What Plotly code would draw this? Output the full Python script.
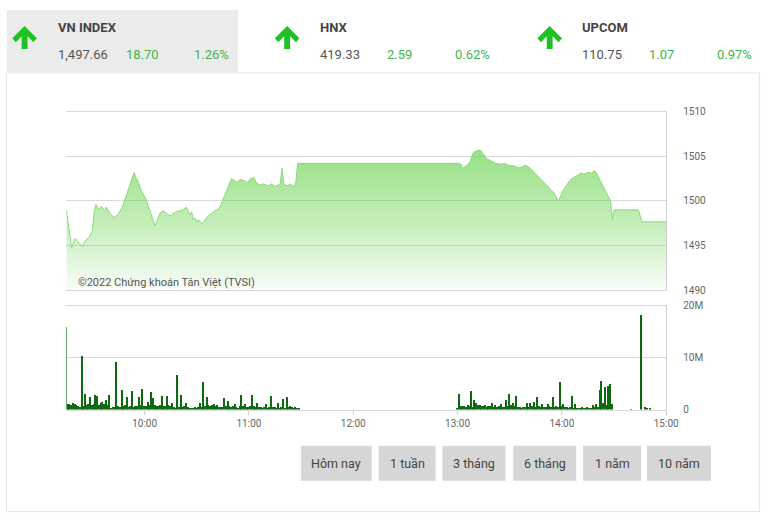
import plotly.graph_objects as go
import pandas as pd

DAY = "2022-01-05"
W, H = 780, 522

# ---------------- data ----------------
price_times = ["09:15","09:18","09:20","09:22","09:24","09:26","09:28","09:30","09:31","09:32",
               "09:33","09:34","09:35","09:37","09:38","09:39","09:40","09:41","09:43","09:44",
               "09:45","09:47","09:50","09:52","09:54","09:55","09:56","09:58","10:01","10:03",
               "10:06","10:09","10:11","10:13","10:15","10:17","10:20","10:22","10:24","10:26",
               "10:27","10:28","10:29","10:30","10:31","10:33","10:34","10:36","10:39","10:43",
               "10:46","10:50","10:53","10:55","10:57","10:59","11:01","11:03","11:04","11:06",
               "11:08","11:11","11:13","11:15","11:17","11:18","11:19","11:20","11:22","11:24",
               "11:26","11:27","11:28","11:30","13:00","13:02","13:03","13:07","13:09","13:11",
               "13:13","13:15","13:17","13:19","13:22","13:25","13:27","13:29","13:33","13:35",
               "13:37","13:39","13:41","13:44","13:47","13:50","13:52","13:55","13:58","14:01",
               "14:05","14:08","14:11","14:13","14:15","14:17","14:18","14:19","14:22","14:24",
               "14:26","14:28","14:29","14:30","14:44","14:46","15:00"]
price_values = [1499.0,1494.7,1495.8,1495.3,1494.9,1495.6,1495.9,1496.7,1498.8,1499.6,
                1499.3,1499.0,1499.4,1499.0,1499.3,1498.9,1498.6,1498.4,1498.1,1498.4,
                1498.6,1499.2,1501.0,1502.2,1503.2,1502.6,1502.3,1501.2,1500.1,1498.9,
                1497.2,1498.7,1498.9,1498.5,1498.3,1498.7,1498.9,1499.0,1499.3,1498.5,
                1498.8,1497.9,1498.1,1497.6,1497.9,1497.4,1497.6,1498.2,1498.7,1499.2,
                1500.6,1502.5,1502.1,1502.4,1502.3,1502.0,1502.5,1502.6,1502.1,1501.8,
                1501.9,1501.7,1501.9,1501.6,1501.8,1501.9,1503.7,1501.9,1501.7,1501.9,
                1501.6,1502.1,1504.2,1504.2,1504.2,1504.1,1503.6,1504.3,1505.4,1505.6,
                1505.7,1505.2,1504.7,1504.5,1504.2,1504.1,1504.2,1504.0,1503.9,1503.7,
                1503.8,1504.0,1503.8,1503.2,1502.6,1502.1,1501.6,1501.0,1500.0,1501.3,
                1502.4,1502.8,1503.1,1503.0,1503.2,1503.1,1503.3,1503.4,1502.3,1501.5,
                1500.7,1500.0,1497.9,1499.0,1499.0,1497.66,1497.66]

# volume (millions) per minute, morning session from 09:15
vol_morning_start = "09:15"
vol_morning = [16.0,1.0,1.1,0.9,1.2,1.0,0.9,0.6,0.5,10.3,
               0.6,3.1,0.8,1.0,2.5,0.9,1.1,2.8,2.6,0.9,
               1.2,1.5,1.0,1.8,0.9,2.8,0.3,0.4,0.5,9.1,
               0.6,0.5,3.7,0.6,0.8,2.4,0.5,0.6,3.5,0.5,
               0.7,0.6,2.4,0.8,4.0,0.6,0.7,1.5,0.9,3.3,
               2.2,0.8,0.6,0.7,0.9,2.7,0.7,0.6,2.7,0.8,
               0.6,1.2,0.4,0.3,6.7,0.4,2.8,0.5,0.6,1.2,
               0.4,0.3,0.2,0.3,0.4,0.3,0.5,1.2,0.4,5.3,
               0.6,2.5,0.9,0.7,0.8,1.0,0.6,0.8,0.5,0.4,
               0.5,2.3,0.6,1.6,0.7,0.5,0.6,1.0,0.4,0.3,
               0.6,2.8,0.7,1.0,0.5,0.4,0.6,2.8,0.6,0.5,
               1.2,0.4,0.5,0.3,0.4,1.0,0.3,0.4,2.7,0.5,
               0.4,0.3,1.3,0.3,0.4,2.0,0.3,2.4,0.4,0.6,
               0.5,0.3,0.4,0.3,0.2]
# afternoon session from 13:00
vol_afternoon_start = "13:00"
vol_afternoon = [0.2,3.0,0.6,0.7,0.6,0.5,0.8,0.6,3.5,0.5,
                 1.8,1.2,0.8,0.9,0.7,0.6,0.8,0.5,0.7,0.6,
                 1.2,0.5,0.8,0.4,0.6,1.0,0.5,0.4,1.8,0.7,
                 3.0,0.9,1.3,0.6,2.6,0.5,0.4,0.3,0.5,0.4,
                 1.3,0.5,1.2,0.6,1.5,0.4,2.5,0.6,0.5,1.0,
                 0.4,0.5,1.0,0.6,0.4,2.5,0.5,0.6,0.4,5.4,
                 0.6,1.0,0.5,0.4,0.3,0.4,2.7,0.3,1.0,0.3,
                 0.3,0.2,0.4,0.3,0.3,0.4,0.2,0.3,0.9,0.4,
                 1.0,0.5,3.7,5.5,1.2,4.3,0.8,4.6,4.9,1.0]
# closing auction and after
vol_close_times = ["14:40","14:46","14:48","14:49","14:51"]
vol_close = [0.1,18.3,0.4,0.2,0.3]

price_ticks = [1490, 1495, 1500, 1505, 1510]
vol_ticks = [0, 10, 20]
vol_ticktext = ["0", "10M", "20M"]
time_ticks = ["10:00", "11:00", "12:00", "13:00", "14:00", "15:00"]

indices = [
    dict(name="VN INDEX", value="1,497.66", change="18.70", pct="1.26%"),
    dict(name="HNX", value="419.33", change="2.59", pct="0.62%"),
    dict(name="UPCOM", value="110.75", change="1.07", pct="0.97%"),
]
buttons = ["Hôm nay", "1 tuần", "3 tháng", "6 tháng", "1 năm", "10 năm"]
copyright_text = "©2022 Chứng khoán Tân Việt (TVSI)"

assert len(price_times) == len(price_values)

# ---------------- helpers ----------------
def ts(hm):
    return pd.Timestamp(f"{DAY} {hm}")

def px(x):
    return x / W

def py(y):
    return 1 - y / H

FONT = "Roboto"
GREEN_TXT = "#43b549"
ARROW_GREEN = "#1fc224"

# ---------------- traces ----------------
fig = go.Figure()

fig.add_trace(go.Scatter(
    x=[ts(t) for t in price_times], y=price_values,
    mode="lines", line=dict(color="#8cda78", width=1),
    fill="tozeroy",
    fillgradient=dict(type="vertical", start=1490, stop=1506,
                      colorscale=[[0, "rgba(120,215,95,0.03)"], [0.5, "rgba(120,215,95,0.45)"],
                                  [1, "rgba(120,215,95,0.78)"]]),
    xaxis="x", yaxis="y", hoverinfo="skip", showlegend=False,
))

vol_x = list(pd.date_range(ts(vol_morning_start), periods=len(vol_morning), freq="min")) + \
        list(pd.date_range(ts(vol_afternoon_start), periods=len(vol_afternoon), freq="min")) + \
        [ts(t) for t in vol_close_times]
vol_y = vol_morning + vol_afternoon + vol_close

fig.add_trace(go.Bar(
    x=vol_x, y=vol_y, width=42000,
    marker=dict(color="#0c6b10", line=dict(width=0)),
    xaxis="x2", yaxis="y2", hoverinfo="skip", showlegend=False,
))

# ---------------- axes ----------------
xdom = [px(67.5), px(677.5)]
xrange = [ts("09:15"), ts("15:00")]
grid = "#d9d9d9"
tickfont = dict(family=FONT, size=10, color="#666")

fig.update_layout(
    width=W, height=H, autosize=False,
    margin=dict(l=0, r=0, t=0, b=0),
    paper_bgcolor="white", plot_bgcolor="white",
    bargap=0,
    xaxis=dict(domain=xdom, anchor="y", type="date", range=xrange,
               showticklabels=False, showgrid=False, zeroline=False,
               showline=True, mirror=True, linecolor=grid, linewidth=1),
    yaxis=dict(domain=[py(291), py(108)], anchor="x", range=[1490, 1510], side="right",
               tickvals=price_ticks, showgrid=True, gridcolor=grid, zeroline=False,
               showline=True, linecolor="#cfcfcf", linewidth=1,
               ticks="", ticklabelstandoff=14, tickfont=tickfont),
    xaxis2=dict(domain=xdom, anchor="y2", type="date", range=xrange,
                tickvals=[ts(t) for t in time_ticks], ticktext=time_ticks,
                ticks="outside", ticklen=4, tickcolor="#cfcfcf",
                showgrid=False, zeroline=False, showline=True, mirror=True, linecolor=grid,
                tickfont=tickfont),
    yaxis2=dict(domain=[py(413), py(307)], anchor="x2", range=[0, 20], side="right",
                tickvals=vol_ticks, ticktext=vol_ticktext, showgrid=True, gridcolor=grid,
                zeroline=False, showline=True, linecolor="#cfcfcf", linewidth=1,
                ticks="", ticklabelstandoff=14, tickfont=tickfont),
)

# ---------------- decorations ----------------
shapes = []
annotations = []

# outer container border
shapes.append(dict(type="rect", xref="paper", yref="paper",
                   x0=px(6.5), x1=px(772.5), y0=py(517.5), y1=py(68.5),
                   line=dict(color="#e3e3e3", width=1), fillcolor="rgba(0,0,0,0)", layer="below"))
# active header cell
shapes.append(dict(type="rect", xref="paper", yref="paper",
                   x0=px(7), x1=px(242), y0=py(68), y1=py(4),
                   line=dict(width=0), fillcolor="#ebebeb", layer="below"))

def arrow_path(cx, top):
    pts = [(0, 0), (12.5, 12.5), (9, 16.5), (3, 10.5), (3, 23.5), (-3, 23.5),
           (-3, 10.5), (-9, 16.5), (-12.5, 12.5)]
    s = ""
    for i, (dx, dy) in enumerate(pts):
        s += ("M" if i == 0 else "L") + f"{px(cx + dx):.5f},{py(top + dy):.5f} "
    return s + "Z"

cell_x = [(25, 57, 126, 195), (292, 323, 392, 461), (559, 590, 658, 727)]
for idx, (ax, tx, cx, pcx) in zip(indices, cell_x):
    shapes.append(dict(type="path", xref="paper", yref="paper", path=arrow_path(ax, 20.5),
                       fillcolor=ARROW_GREEN, line=dict(width=0)))
    annotations.append(dict(x=px(tx), y=py(22), xref="paper", yref="paper", text=f"<b>{idx['name']}</b>",
                            showarrow=False, xanchor="left", yanchor="middle",
                            font=dict(family=FONT, size=13, color="#444")))
    annotations.append(dict(x=px(tx), y=py(50), xref="paper", yref="paper", text=idx["value"],
                            showarrow=False, xanchor="left", yanchor="middle",
                            font=dict(family=FONT, size=13, color="#555")))
    annotations.append(dict(x=px(cx), y=py(50), xref="paper", yref="paper", text=idx["change"],
                            showarrow=False, xanchor="left", yanchor="middle",
                            font=dict(family=FONT, size=13, color=GREEN_TXT)))
    annotations.append(dict(x=px(pcx), y=py(50), xref="paper", yref="paper", text=idx["pct"],
                            showarrow=False, xanchor="left", yanchor="middle",
                            font=dict(family=FONT, size=13, color=GREEN_TXT)))

# copyright
annotations.append(dict(x=px(77), y=py(283), xref="paper", yref="paper", text=copyright_text,
                        showarrow=False, xanchor="left", yanchor="middle",
                        font=dict(family=FONT, size=11, color="#555")))

# range buttons
btn_x = [(306, 378), (385, 443), (450, 514), (522, 586), (593, 652), (658, 723)]
for label, (x0, x1) in zip(buttons, btn_x):
    shapes.append(dict(type="rect", xref="paper", yref="paper",
                       x0=px(x0), x1=px(x1), y0=py(486), y1=py(450),
                       line=dict(width=0), fillcolor="#d6d6d6", layer="below"))
    annotations.append(dict(x=px((x0 + x1) / 2), y=py(468), xref="paper", yref="paper", text=label,
                            showarrow=False, xanchor="center", yanchor="middle",
                            font=dict(family=FONT, size=12.5, color="#444")))

fig.update_layout(shapes=shapes, annotations=annotations)

fig.write_html("out.html",
               config={"displayModeBar": False},
               post_script="document.body.style.margin='0px';document.body.style.overflow='hidden';")
